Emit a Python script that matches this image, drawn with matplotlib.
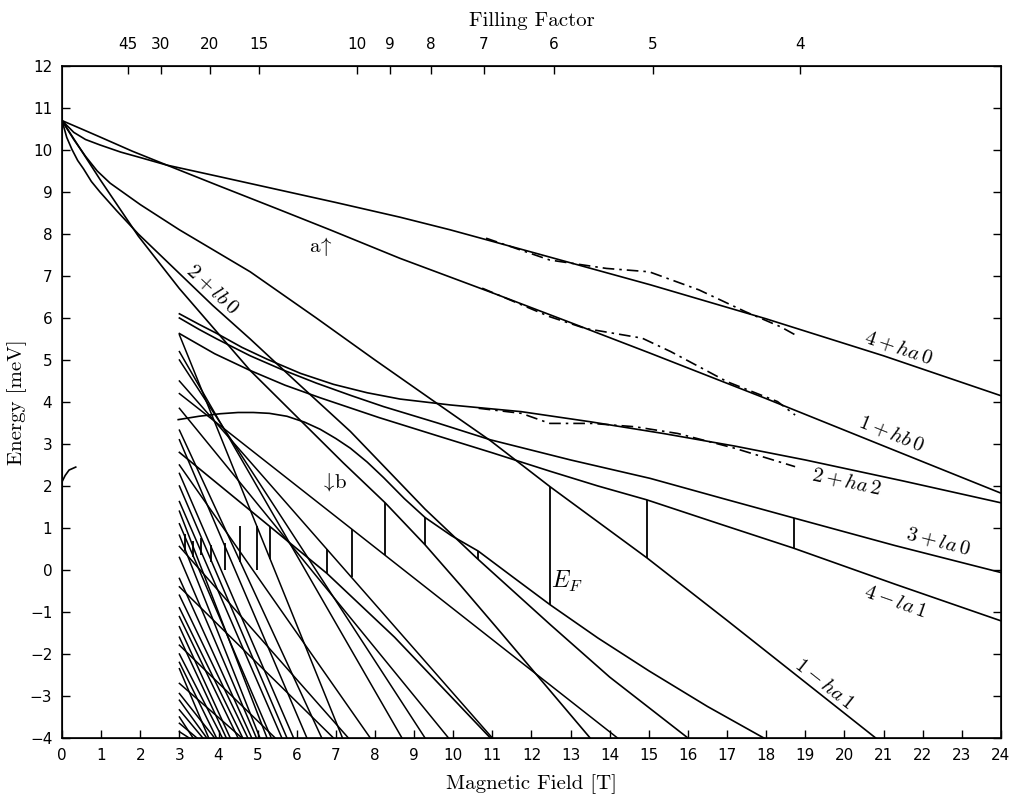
import numpy as np
import matplotlib
matplotlib.use("Agg")
import matplotlib.pyplot as plt

plt.rcParams['mathtext.fontset'] = 'cm'
plt.rcParams['font.family'] = 'DejaVu Sans'

# ---- level curves: B [T], E [meV] ----
ha0_4_B = [0, 0.3, 0.6, 0.97, 1.5, 2.0, 2.68, 4, 5.5, 7, 8.64, 9.92, 12, 15.04, 18, 21, 24]
ha0_4_E = [10.7, 10.42, 10.25, 10.12, 9.95, 9.82, 9.64, 9.37, 9.06, 8.75, 8.4, 8.1, 7.57, 6.79, 5.98, 5.1, 4.15]

hb0_1_B = [0, 0.5, 0.97, 1.8, 2.68, 4, 5.5, 6.85, 8.64, 11, 13, 15.04, 18, 21.25, 24]
hb0_1_E = [10.7, 10.5, 10.31, 9.97, 9.64, 9.15, 8.6, 8.1, 7.42, 6.6, 5.89, 5.16, 4.08, 2.86, 1.83]

ha1_1_B = [0, 0.3, 0.6, 0.9, 1.23, 2, 3, 4.81, 6.5, 8, 9.58, 10.95, 12.48, 14.95, 17, 20.8]
ha1_1_E = [10.7, 10.25, 9.85, 9.5, 9.21, 8.7, 8.1, 7.1, 6.0, 5.0, 3.97, 3.08, 1.98, 0.29, -1.2, -4]

lb0_2_B = [0, 0.12, 0.25, 0.4, 0.55, 0.75, 0.97, 1.4, 1.95, 2.9, 3.85, 4.81, 6, 7.37, 8.3, 9.28, 10.64, 12.48, 14, 16]
lb0_2_E = [10.7, 10.3, 10.02, 9.75, 9.55, 9.25, 9.0, 8.55, 8.0, 7.15, 6.3, 5.5, 4.47, 3.3, 2.4, 1.45, 0.25, -1.3, -2.55, -4]

steep_B = [0, 0.97, 1.95, 3, 4.81, 6, 7.19, 8.26, 9.28, 10.2, 11.2, 13.5]
steep_E = [10.7, 9.3, 7.95, 6.7, 4.75, 3.65, 2.55, 1.6, 0.6, -0.38, -1.47, -4]

hump_B = [2.97, 3.5, 4.04, 4.5, 4.89, 5.3, 5.75, 6.2, 6.6, 7.0, 7.37, 7.8, 8.22, 8.75, 9.28,
          9.95, 10.64, 11.5, 12.48, 13.7, 15, 16.5, 17.94]
hump_E = [3.58, 3.66, 3.72, 3.75, 3.75, 3.73, 3.66, 3.52, 3.35, 3.13, 2.9, 2.57, 2.2, 1.7, 1.25,
          0.82, 0.45, -0.15, -0.83, -1.62, -2.4, -3.25, -4]

ha2_2_B = [3, 3.5, 3.96, 4.6, 5.24, 6.1, 6.94, 7.8, 8.64, 9.92, 11.74, 13.5, 15.37, 17.2, 19, 21.5, 24]
ha2_2_E = [6.1, 5.85, 5.63, 5.3, 5.02, 4.68, 4.42, 4.22, 4.07, 3.93, 3.77, 3.53, 3.25, 2.95, 2.62, 2.12, 1.6]

la0_3_B = [3, 3.5, 3.96, 4.81, 5.6, 6.5, 7.4, 8.22, 9.6, 10.95, 13, 15.04, 16.9, 18.7, 21.3, 24]
la0_3_E = [6.0, 5.73, 5.5, 5.1, 4.78, 4.45, 4.15, 3.89, 3.5, 3.1, 2.62, 2.18, 1.7, 1.24, 0.58, -0.06]

la1_4_B = [3, 3.9, 4.81, 5.7, 6.6, 8.1, 9.58, 11, 12.48, 13.7, 14.95, 16.8, 18.7, 21.3, 24]
la1_4_E = [5.63, 5.15, 4.75, 4.4, 4.1, 3.63, 3.2, 2.79, 2.35, 2.0, 1.67, 1.1, 0.52, -0.34, -1.21]

fanA_B = [3, 5.32, 6.77, 8.5, 10.95]
fanA_E = [2.8, 1.03, -0.08, -1.6, -4]

hook_B = [0, 0.08, 0.18, 0.35]
hook_E = [2.1, 2.25, 2.38, 2.45]

# straight Landau fan lines from 3 T: energy at 3 T and field where they reach -4 meV
fan_start = [4.2, 4.5, 5.6, 5.2, 5.0, 3.85, 3.33, 3.1, 2.5, 2.3, 2.0, 1.63, 1.4, 1.1, 0.83, 0.56, 0.3,
             -0.2, -0.4, -0.6, -0.9, -1.11, -1.35, -1.6, -1.79, -2.0, -2.2, -2.35, -2.7, -2.94,
             -3.1, -3.33, -3.5, -3.65, -3.85]
fan_end = [14.2, 11.0, 7.17, 8.69, 9.28, 9.88, 6.64, 6.26, 7.88, 5.92, 5.75, 5.62, 5.24, 5.35, 5.06, 7.32, 4.97,
           4.85, 6.94, 4.75, 4.62, 4.5, 4.3, 4.2, 5.45, 4.1, 3.95, 3.75, 4.6, 3.9,
           3.7, 3.6, 3.35, 3.45, 3.25]

# Fermi energy jumps
ef_B = [3.15, 3.35, 3.55, 3.8, 4.17, 4.55, 4.98, 5.32, 6.77, 7.41, 8.26, 9.28, 10.64, 12.48, 14.95, 18.7]
ef_lo = [0.45, 0.3, 0.35, 0.2, 0.0, 0.2, 0.0, 0.26, -0.08, -0.17, 0.35, 0.6, 0.25, -0.83, 0.29, 0.52]
ef_hi = [0.85, 0.7, 0.75, 0.6, 0.65, 1.05, 1.04, 1.03, 0.49, 0.97, 1.6, 1.25, 0.45, 1.98, 1.67, 1.24]

# dash-dotted (experimental) curves
dd1_B = [10.84, 12.47, 13.92, 15.01, 16.28, 17.47, 18.37, 18.74]
dd1_E = [7.9, 7.38, 7.18, 7.1, 6.67, 6.15, 5.79, 5.6]
dd2_B = [10.74, 12.47, 13.38, 14.83, 15.56, 17.01, 18.29, 18.74]
dd2_E = [6.71, 6.03, 5.75, 5.52, 5.2, 4.48, 4.01, 3.69]
dd3_B = [10.65, 11.74, 12.47, 13.55, 14.65, 15.74, 17.19, 18.74]
dd3_E = [3.85, 3.73, 3.49, 3.49, 3.41, 3.25, 2.9, 2.46]

# filling factor axis
nu_labels = ['45', '30', '20', '15', '10', '9', '8', '7', '6', '5', '4']
nu_B = [1.68, 2.52, 3.78, 5.03, 7.55, 8.39, 9.43, 10.78, 12.58, 15.1, 18.87]

fig = plt.figure(figsize=(10.12, 7.98), dpi=100)
ax = fig.add_axes([0.0613, 0.0752, 0.9277, 0.8421])
ax.set_xlim(0, 24)
ax.set_ylim(-4, 12)

curves = [(ha0_4_B, ha0_4_E), (hb0_1_B, hb0_1_E), (ha1_1_B, ha1_1_E), (lb0_2_B, lb0_2_E),
          (steep_B, steep_E), (hump_B, hump_E), (ha2_2_B, ha2_2_E), (la0_3_B, la0_3_E),
          (la1_4_B, la1_4_E), (fanA_B, fanA_E), (hook_B, hook_E)]
for cb, ce in curves:
    ax.plot(cb, ce, color='k', lw=1.2)

for s, e in zip(fan_start, fan_end):
    ax.plot([3.0, e], [s, -4], color='k', lw=1.1)

ax.vlines(ef_B, ef_lo, ef_hi, colors='k', lw=1.3)

for db, de in [(dd1_B, dd1_E), (dd2_B, dd2_E), (dd3_B, dd3_E)]:
    ax.plot(db, de, color='k', lw=1.2, ls=(0, (7, 3, 1.5, 3)))


def place(txt, x, y, cb, ce, size=15):
    y1 = np.interp(x - 0.6, cb, ce)
    y2 = np.interp(x + 0.6, cb, ce)
    p1 = ax.transData.transform((x - 0.6, y1))
    p2 = ax.transData.transform((x + 0.6, y2))
    ang = np.degrees(np.arctan2(p2[1] - p1[1], p2[0] - p1[0]))
    ax.text(x, y, txt, rotation=ang, rotation_mode='anchor', ha='center', va='center', fontsize=size)


place(r'$4+ha\,0$', 21.4, 5.29, ha0_4_B, ha0_4_E)
place(r'$1+hb\,0$', 21.2, 3.25, hb0_1_B, hb0_1_E)
place(r'$2+ha\,2$', 20.05, 2.1, ha2_2_B, ha2_2_E)
place(r'$3+la\,0$', 22.4, 0.69, la0_3_B, la0_3_E)
place(r'$4-la\,1$', 21.3, -0.75, la1_4_B, la1_4_E)
place(r'$1-ha\,1$', 19.5, -2.7, ha1_1_B, ha1_1_E)
place(r'$2+lb\,0$', 3.86, 6.7, lb0_2_B, lb0_2_E)

ax.text(12.9, -0.27, r'$E_F$', fontsize=17, ha='center', va='center')
ax.text(6.6, 7.7, r'$\mathrm{a}\!\uparrow$', fontsize=15, ha='center', va='center')
ax.text(6.95, 2.1, r'$\downarrow\!\mathrm{b}$', fontsize=15, ha='center', va='center')

ax.set_xticks(range(0, 25))
ax.set_yticks(range(-4, 13))
ax.tick_params(direction='in', length=6, width=1, right=True, top=False, labelsize=11, pad=7)
for sp in ax.spines.values():
    sp.set_linewidth(1.2)

ax.set_xlabel('Magnetic Field [T]', fontsize=15, fontfamily='cmr10', labelpad=8)
ax.set_ylabel('Energy [meV]', fontsize=15, fontfamily='cmr10', labelpad=2)

ax2 = ax.twiny()
ax2.set_xlim(0, 24)
ax2.set_xticks(nu_B)
ax2.set_xticklabels(nu_labels)
ax2.tick_params(direction='in', length=6, width=1, labelsize=11, pad=10)
ax2.set_xlabel('Filling Factor', fontsize=15, fontfamily='cmr10', labelpad=8)

fig.savefig('out.png', dpi=100)
